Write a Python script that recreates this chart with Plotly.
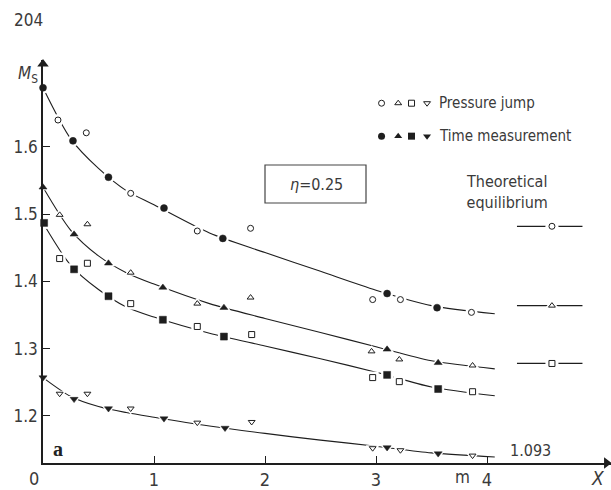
import plotly.graph_objects as go

# ---------------- data ----------------
curve_x = [0, 0.25, 0.5, 0.75, 1, 1.5, 2, 2.5, 3, 3.5, 4.07]
curve_circle = [1.688, 1.612, 1.568, 1.535, 1.514, 1.472, 1.443, 1.415, 1.387, 1.364, 1.352]
curve_tri = [1.540, 1.476, 1.438, 1.413, 1.396, 1.367, 1.345, 1.324, 1.303, 1.282, 1.270]
curve_sq = [1.487, 1.424, 1.388, 1.362, 1.347, 1.323, 1.304, 1.285, 1.265, 1.243, 1.230]
curve_dn = [1.257, 1.229, 1.214, 1.205, 1.198, 1.185, 1.174, 1.164, 1.155, 1.145, 1.139]

circle_open_x = [0.135, 0.39, 0.79, 1.39, 1.87, 2.97, 3.22, 3.86]
circle_open_y = [1.640, 1.621, 1.531, 1.475, 1.479, 1.373, 1.373, 1.354]
circle_filled_x = [0, 0.27, 0.59, 1.09, 1.62, 3.10, 3.55]
circle_filled_y = [1.688, 1.609, 1.555, 1.509, 1.464, 1.382, 1.361]

tri_open_x = [0.15, 0.40, 0.79, 1.39, 1.87, 2.96, 3.21, 3.87]
tri_open_y = [1.499, 1.485, 1.413, 1.367, 1.376, 1.296, 1.284, 1.275]
tri_filled_x = [0, 0.28, 0.59, 1.08, 1.63, 3.10, 3.56]
tri_filled_y = [1.540, 1.470, 1.427, 1.391, 1.361, 1.299, 1.279]

sq_open_x = [0.15, 0.40, 0.79, 1.39, 1.88, 2.97, 3.21, 3.87]
sq_open_y = [1.434, 1.427, 1.367, 1.333, 1.321, 1.257, 1.251, 1.236]
sq_filled_x = [0.01, 0.28, 0.59, 1.08, 1.63, 3.10, 3.56]
sq_filled_y = [1.487, 1.418, 1.378, 1.343, 1.318, 1.261, 1.240]

dn_open_x = [0.15, 0.40, 0.79, 1.39, 1.88, 2.97, 3.22, 3.87]
dn_open_y = [1.233, 1.233, 1.211, 1.190, 1.191, 1.152, 1.149, 1.141]
dn_filled_x = [0, 0.28, 0.59, 1.09, 1.64, 3.10, 3.56]
dn_filled_y = [1.257, 1.225, 1.211, 1.196, 1.182, 1.153, 1.144]

theory_vals = [1.482, 1.364, 1.278]
theory_symbols = ["circle", "triangle-up", "square"]
theory_span = [4.27, 4.86]
theory_mark_x = 4.585

legend_x = [3.05, 3.20, 3.32, 3.46]
legend_open_y = 1.665
legend_filled_y = 1.616
legend_symbols = ["circle", "triangle-up", "square", "triangle-down"]

y_ticks = [1.2, 1.3, 1.4, 1.5, 1.6]
x_ticks = [1, 2, 3, 4]

INK = "#1e1e1e"
TXT = "#3a3a3a"
FONT = "Liberation Sans Narrow, DejaVu Sans Condensed, Roboto Condensed, Liberation Sans, sans-serif"

W, H = 611, 490
L, R, T, B = 43, 0, 60, 27
PW, PH = W - L - R, H - T - B
X_MAX = PW / 111.0
Y_MIN = 1.130
Y_MAX = Y_MIN + PH / 672.5

fig = go.Figure()

series = [
    ("circle", curve_circle, circle_open_x, circle_open_y, circle_filled_x, circle_filled_y),
    ("triangle-up", curve_tri, tri_open_x, tri_open_y, tri_filled_x, tri_filled_y),
    ("square", curve_sq, sq_open_x, sq_open_y, sq_filled_x, sq_filled_y),
    ("triangle-down", curve_dn, dn_open_x, dn_open_y, dn_filled_x, dn_filled_y),
]

for sym, cy, ox, oy, fx, fy in series:
    fig.add_trace(go.Scatter(x=curve_x, y=cy, mode="lines",
                             line=dict(color=INK, width=1.1, shape="spline", smoothing=0.8),
                             hoverinfo="skip", showlegend=False))
for sym, cy, ox, oy, fx, fy in series:
    # white halos so the curve is broken around the marks
    fig.add_trace(go.Scatter(x=ox + fx, y=oy + fy, mode="markers",
                             marker=dict(symbol=sym, size=12, color="white", line=dict(width=0)),
                             hoverinfo="skip", showlegend=False, cliponaxis=False))
for sym, cy, ox, oy, fx, fy in series:
    fig.add_trace(go.Scatter(x=ox, y=oy, mode="markers",
                             marker=dict(symbol=sym, size=6, color="white", line=dict(color=INK, width=1)),
                             showlegend=False, cliponaxis=False))
    fig.add_trace(go.Scatter(x=fx, y=fy, mode="markers",
                             marker=dict(symbol=sym, size=7, color=INK, line=dict(color=INK, width=0.5)),
                             showlegend=False, cliponaxis=False))

# theoretical equilibrium marks
for val, sym in zip(theory_vals, theory_symbols):
    fig.add_trace(go.Scatter(x=theory_span, y=[val, val], mode="lines",
                             line=dict(color=INK, width=1.3), hoverinfo="skip", showlegend=False))
    fig.add_trace(go.Scatter(x=[theory_mark_x], y=[val], mode="markers",
                             marker=dict(symbol=sym, size=13, color="white", line=dict(width=0)),
                             hoverinfo="skip", showlegend=False))
    fig.add_trace(go.Scatter(x=[theory_mark_x], y=[val], mode="markers",
                             marker=dict(symbol=sym, size=6, color="white", line=dict(color=INK, width=1)),
                             showlegend=False))

# legend marks
fig.add_trace(go.Scatter(x=legend_x, y=[legend_open_y] * 4, mode="markers",
                         marker=dict(symbol=legend_symbols, size=6, color="white", line=dict(color=INK, width=1)),
                         showlegend=False))
fig.add_trace(go.Scatter(x=legend_x, y=[legend_filled_y] * 4, mode="markers",
                         marker=dict(symbol=legend_symbols, size=7, color=INK),
                         showlegend=False))

# axis arrowheads
fig.add_trace(go.Scatter(x=[0], y=[Y_MAX - 0.006], mode="markers", cliponaxis=False,
                         marker=dict(symbol="triangle-up", size=10, color=INK),
                         hoverinfo="skip", showlegend=False))
fig.add_trace(go.Scatter(x=[X_MAX - 0.04], y=[Y_MIN], mode="markers", cliponaxis=False,
                         marker=dict(symbol="triangle-right", size=10, color=INK),
                         hoverinfo="skip", showlegend=False))


def px(x):
    return (x - L) / PW


def py(y):
    return (H - B - y) / PH


def note(text, x, y, size=16, xanchor="center", family=FONT, color=TXT):
    fig.add_annotation(x=px(x), y=py(y), xref="paper", yref="paper", text=text,
                       showarrow=False, xanchor=xanchor, yanchor="middle",
                       font=dict(family=family, size=size, color=color))


note("204", 28, 20, size=17)
note("<i>M</i><sub>S</sub>", 28, 74, size=17)
note("<i>X</i>", 598, 478, size=19)
note("m", 462, 477, size=17)
note("0", 34, 478, size=18)
note("<b>a</b>", 58, 449, size=20, family="Liberation Serif, DejaVu Serif, serif", color="#222")
note("1.093", 530, 450, size=16)
note("Pressure jump", 437, 103, size=15, xanchor="left")
note("Time measurement", 437, 136, size=15, xanchor="left")
note("<i>η</i>=0.25", 316, 184, size=16)
note("Theoretical<br>equilibrium", 507, 192, size=16)

fig.add_shape(type="rect", xref="paper", yref="paper",
              x0=px(265), x1=px(366), y0=py(203), y1=py(165),
              line=dict(color="#444", width=1.2))

fig.update_layout(
    width=W, height=H, margin=dict(l=L, r=R, t=T, b=B),
    paper_bgcolor="white", plot_bgcolor="white",
    font=dict(family=FONT, color=TXT),
    xaxis=dict(range=[0, X_MAX], showgrid=False, zeroline=False, showline=True,
               linecolor=INK, linewidth=1.6, ticks="inside", ticklen=7, tickcolor=INK,
               tickvals=x_ticks, ticktext=[str(v) for v in x_ticks],
               tickfont=dict(size=18, color=TXT)),
    yaxis=dict(range=[Y_MIN, Y_MAX], showgrid=False, zeroline=False, showline=True,
               linecolor=INK, linewidth=1.6, ticks="inside", ticklen=7, tickcolor=INK,
               tickvals=y_ticks, ticktext=["1.2", "1.3", "1.4", "1.5", "1.6"],
               tickfont=dict(size=17, color=TXT)),
    showlegend=False,
)

fig.write_html("out.html")
